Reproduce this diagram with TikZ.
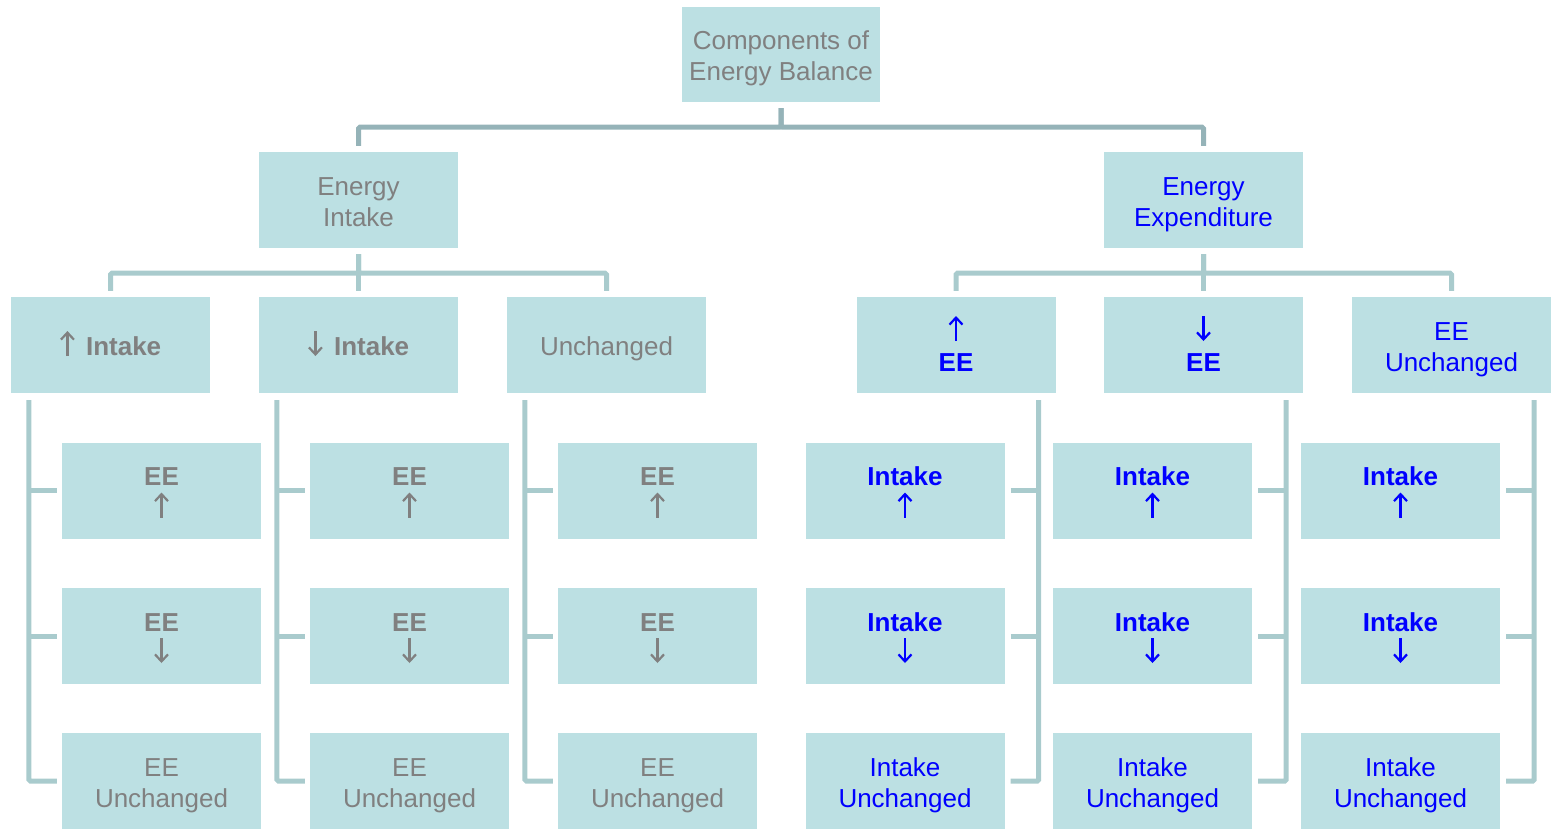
\documentclass[tikz,border=0pt]{standalone}
\usepackage{fontspec}
\setmainfont{Liberation Sans}
\usetikzlibrary{arrows.meta}
\definecolor{boxfill}{HTML}{BCE0E3}
\definecolor{greytxt}{HTML}{808080}
\definecolor{bluetxt}{HTML}{0000FF}
\definecolor{trunk}{HTML}{95B3B8}
\definecolor{branch}{HTML}{A9CBCD}
% thin open-headed arrows drawn inline in the current text colour
\newcommand{\arrowglyph}[1]{\tikz[baseline=0pt]\draw[x=1pt,y=1pt,line width=2.2pt,
  -{Straight Barb[length=7pt,width=13pt]}] #1;}
\newcommand{\up}{\arrowglyph{(0,-1)--(0,24)}}
\newcommand{\dn}{\arrowglyph{(0,24)--(0,-1)}}
\begin{document}
\begin{tikzpicture}[x=1pt,y=-1pt,
  card/.style={fill=boxfill, minimum width=199pt, minimum height=96pt,
    inner sep=0pt, align=center, font=\fontsize{26}{31}\selectfont,
    text height=22pt, text depth=2pt},
  twoline/.style={text height=53pt, text depth=1pt},
  greycard/.style={card, text=greytxt},
  bluecard/.style={card, text=bluetxt},
  link/.style={line width=5pt, draw=branch, rounded corners=1.5pt},
  trunkline/.style={link, draw=trunk}]
\useasboundingbox (0,0) rectangle (1551,828);

% root and the two main components
\node[greycard, twoline, minimum width=198pt, minimum height=95pt] (root) at (781,54.5) {Components of\\Energy Balance};
\node[greycard, twoline] (ei) at (358.5,200) {Energy\\Intake};
\node[bluecard, twoline] (ee) at (1203.5,200) {Energy\\Expenditure};

% intake branch
\node[greycard] (a1) at (110.5,345) {\up\hspace{11pt}\textbf{Intake}};
\node[greycard] (a2) at (358.5,345) {\dn\hspace{11pt}\textbf{Intake}};
\node[greycard] (a3) at (606.5,345) {Unchanged};

% expenditure branch
\node[bluecard, twoline] (b1) at (956,345) {\up\\\textbf{EE}};
\node[bluecard, twoline] (b2) at (1203.5,345) {\dn\\\textbf{EE}};
\node[bluecard, twoline] (b3) at (1451.5,345) {EE\\Unchanged};

% outcomes under each intake case
\foreach \p/\x in {a1/161.5, a2/409.5, a3/657.5}{
  \node[greycard, twoline] (\p u) at (\x,490.5) {\textbf{EE}\\\up};
  \node[greycard, twoline] (\p d) at (\x,636) {\textbf{EE}\\\dn};
  \node[greycard, twoline] (\p n) at (\x,781) {EE\\Unchanged};
}
% outcomes under each expenditure case
\foreach \p/\x in {b1/905, b2/1152.5, b3/1400.5}{
  \node[bluecard, twoline] (\p u) at (\x,490.5) {\textbf{Intake}\\\up};
  \node[bluecard, twoline] (\p d) at (\x,636) {\textbf{Intake}\\\dn};
  \node[bluecard, twoline] (\p n) at (\x,781) {Intake\\Unchanged};
}

% root connectors
\draw[trunkline] ([yshift=-6pt]root.south) -- ++(0,19) -| ([yshift=6pt]ei.north);
\draw[trunkline] ([yshift=-6pt]root.south) -- ++(0,19) -| ([yshift=6pt]ee.north);

% second level connectors
\foreach \c in {a1,a2,a3}
  \draw[link] ([yshift=-6pt]ei.south) -- ++(0,19) -| ([yshift=6pt]\c.north);
\foreach \c in {b1,b2,b3}
  \draw[link] ([yshift=-6pt]ee.south) -- ++(0,19) -| ([yshift=6pt]\c.north);

% spines on the intake side (left of the outcomes)
\foreach \p in {a1,a2,a3}{
  \coordinate (\p s) at ([xshift=18pt,yshift=-7pt]\p.south west);
  \draw[link] (\p s) |- ([xshift=-5pt]\p n.west);
  \draw[link] ([xshift=-5pt]\p u.west) -- (\p u.west -| \p s);
  \draw[link] ([xshift=-5pt]\p d.west) -- (\p d.west -| \p s);
}
% spines on the expenditure side (right of the outcomes)
\foreach \p in {b1,b2,b3}{
  \coordinate (\p s) at ([xshift=-17pt,yshift=-7pt]\p.south east);
  \draw[link] (\p s) |- ([xshift=6pt]\p n.east);
  \draw[link] ([xshift=6pt]\p u.east) -- (\p u.east -| \p s);
  \draw[link] ([xshift=6pt]\p d.east) -- (\p d.east -| \p s);
}
\end{tikzpicture}
\end{document}
